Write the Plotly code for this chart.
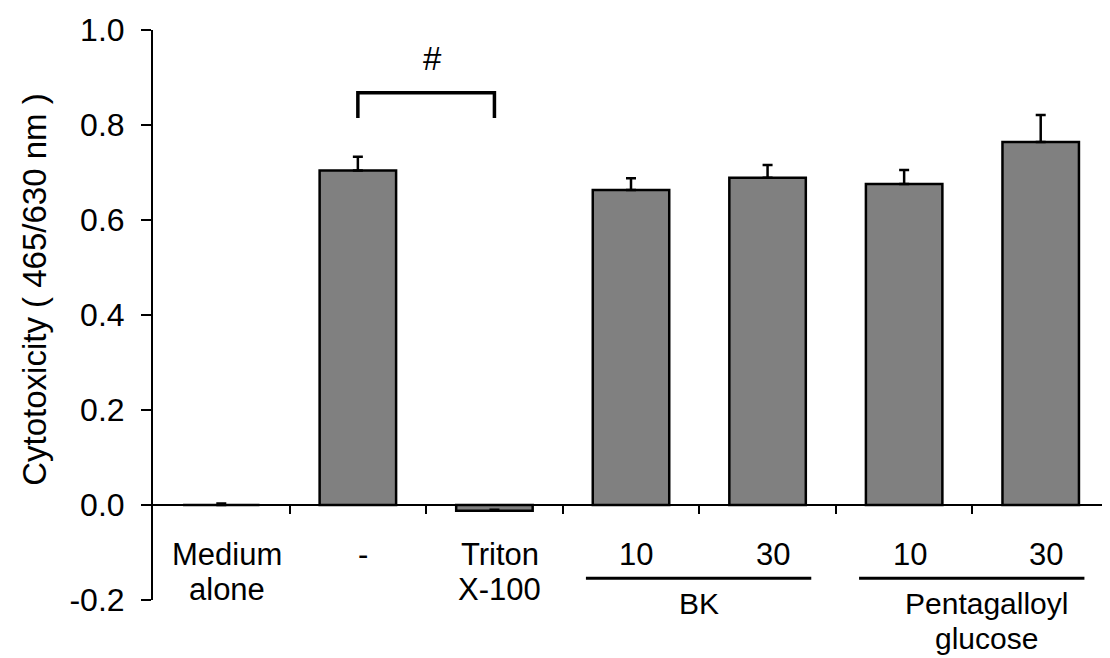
import plotly.graph_objects as go

# ---- data ----
categories = ["Medium alone", "-", "Triton X-100", "BK 10", "BK 30", "PG 10", "PG 30"]
values = [0.0, 0.704, -0.012, 0.663, 0.689, 0.676, 0.764]
errors = [0.003, 0.029, 0.002, 0.025, 0.027, 0.029, 0.057]
cat_label_lines = [["Medium", "alone"], ["-"], ["Triton", "X-100"], ["10"], ["30"], ["10"], ["30"]]
groups = [("BK", [3, 4], ["BK"]), ("Pentagalloyl glucose", [5, 6], ["Pentagalloyl", "glucose"])]
y_ticks = [-0.2, 0.0, 0.2, 0.4, 0.6, 0.8, 1.0]
y_ticktext = ["-0.2", "0.0", "0.2", "0.4", "0.6", "0.8", "1.0"]
y_title = "Cytotoxicity ( 465/630 nm )"
sig_pair = (1, 2)
sig_label = "#"

FONT = "Liberation Sans, Arial, sans-serif"
n = len(categories)
xs = list(range(n))
Y0, Y1 = y_ticks[0], y_ticks[-1]


def to_paper(v):
    return (v - Y0) / (Y1 - Y0)


fig = go.Figure()
fig.add_trace(go.Bar(
    x=xs, y=values, width=0.56,
    marker=dict(color="#808080", line=dict(color="black", width=2.5)),
    error_y=dict(type="data", symmetric=False, array=errors,
                 arrayminus=[0] * n, color="black", thickness=2.5, width=5),
    hoverinfo="y",
))

LBL = 31
# category labels (two possible lines)
line_y = [-0.104, -0.178]
for i, lines in enumerate(cat_label_lines):
    for k, t in enumerate(lines):
        fig.add_annotation(x=i + 0.04, y=to_paper(line_y[k]), xref="x", yref="paper", text=t,
                           showarrow=False, font=dict(family=FONT, size=LBL, color="black"),
                           xanchor="center", yanchor="middle")

# group lines and labels
group_y = [-0.207, -0.280]
for name, idx, lines in groups:
    fig.add_shape(type="line", xref="x", yref="paper", x0=idx[0] - 0.33, x1=idx[-1] + 0.32,
                  y0=to_paper(-0.154), y1=to_paper(-0.154), line=dict(color="black", width=3))
    cx = (idx[0] + idx[-1]) / 2 + (0.1 if len(lines) > 1 else 0)
    for k, t in enumerate(lines):
        fig.add_annotation(x=cx, y=to_paper(group_y[k]), xref="x", yref="paper", text=t,
                           showarrow=False, font=dict(family=FONT, size=30, color="black"),
                           xanchor="center", yanchor="middle")

# significance bracket
a, b = sig_pair
fig.add_shape(type="path", xref="x", yref="y",
              path=f"M {a} 0.815 L {a} 0.868 L {b} 0.868 L {b} 0.815",
              line=dict(color="black", width=3.5))
fig.add_annotation(x=(a + b) / 2 + 0.05, y=0.94, xref="x", yref="y", text=sig_label,
                   showarrow=False, font=dict(family=FONT, size=33, color="black"),
                   xanchor="center", yanchor="middle")

# y title
fig.add_annotation(x=-0.124, y=0.545, xref="paper", yref="paper", text=y_title,
                   textangle=-90, showarrow=False, xanchor="center", yanchor="middle",
                   font=dict(family=FONT, size=33, color="black"))

# page body has an 8px default margin, so the figure is sized to fit the window
fig.update_layout(
    width=1102, height=650,
    margin=dict(l=145, r=1, t=22, b=58, autoexpand=False),
    plot_bgcolor="white", paper_bgcolor="white",
    showlegend=False,
    font=dict(family=FONT, color="black"),
    xaxis=dict(range=[-0.5, n - 0.5], tickmode="array",
               tickvals=[i + 0.5 for i in xs], showticklabels=False,
               ticks="outside", ticklen=8, tickwidth=2, tickcolor="black",
               showline=True, linecolor="black", linewidth=2,
               showgrid=False, zeroline=False, automargin=False,
               anchor="free", position=to_paper(0)),
    yaxis=dict(range=[Y0, Y1], tickmode="array", tickvals=y_ticks, ticktext=y_ticktext,
               ticks="outside", ticklen=10, tickwidth=2,
               tickcolor="black", showline=True, linecolor="black", linewidth=2,
               showgrid=False, zeroline=False, ticklabelstandoff=10, automargin=False,
               tickfont=dict(family=FONT, size=32, color="black")),
)

fig.write_html("out.html")
